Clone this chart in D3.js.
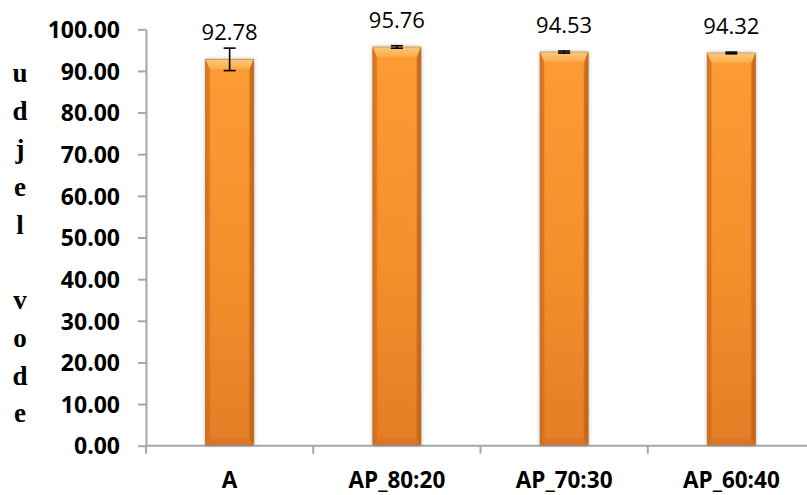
<!DOCTYPE html>
<html>
<head>
<meta charset="utf-8">
<script src="https://cdn.jsdelivr.net/npm/d3@7"></script>
<style>
  html, body { margin: 0; padding: 0; background: #fff; }
  svg { display: block; }
</style>
</head>
<body>
<svg id="chart" width="807" height="495"></svg>
<script>
const categories = ["A", "AP_80:20", "AP_70:30", "AP_60:40"];
const values = [92.78, 95.76, 94.53, 94.32];
const errors = [2.7, 0.3, 0.25, 0.2];
const yTicks = [0, 10, 20, 30, 40, 50, 60, 70, 80, 90, 100];
const yTitle = "udjel vode";

(function () {
const svg = d3.select("#chart");
const pLeft = 146, pRight = 815, pTop = 29.3, pBottom = 445.7;

const x = d3.scaleBand().domain(categories).range([pLeft, pRight]).padding(0);
const y = d3.scaleLinear().domain([0, 100]).range([pBottom, pTop]);
const barW = x.bandwidth() * 0.288;

const defs = svg.append("defs");
const vg = defs.append("linearGradient").attr("id", "bodyGrad").attr("x1", 0).attr("y1", 0).attr("x2", 0).attr("y2", 1);
vg.append("stop").attr("offset", "0%").attr("stop-color", "#FC9C34");
vg.append("stop").attr("offset", "55%").attr("stop-color", "#F58F2C");
vg.append("stop").attr("offset", "100%").attr("stop-color", "#E47D27");
const hg = defs.append("linearGradient").attr("id", "sideGrad").attr("x1", 0).attr("y1", 0).attr("x2", 1).attr("y2", 0);
hg.append("stop").attr("offset", "0%").attr("stop-color", "#000").attr("stop-opacity", 0.18);
hg.append("stop").attr("offset", "12%").attr("stop-color", "#000").attr("stop-opacity", 0);
hg.append("stop").attr("offset", "88%").attr("stop-color", "#000").attr("stop-opacity", 0);
hg.append("stop").attr("offset", "100%").attr("stop-color", "#000").attr("stop-opacity", 0.22);
const tg = defs.append("linearGradient").attr("id", "topGrad").attr("x1", 0).attr("y1", 0).attr("x2", 0).attr("y2", 1);
tg.append("stop").attr("offset", "0%").attr("stop-color", "#FDCB7A");
tg.append("stop").attr("offset", "100%").attr("stop-color", "#FCA948");
const sh = defs.append("filter").attr("id", "shadow").attr("x", "-30%").attr("y", "-10%").attr("width", "160%").attr("height", "120%");
sh.append("feGaussianBlur").attr("in", "SourceAlpha").attr("stdDeviation", 2).attr("result", "b");
sh.append("feComponentTransfer").attr("in", "b").attr("result", "s")
  .append("feFuncA").attr("type", "linear").attr("slope", 0.35);
const m = sh.append("feMerge");
m.append("feMergeNode").attr("in", "s");
m.append("feMergeNode").attr("in", "SourceGraphic");

// y axis
const yAxis = svg.append("g").attr("transform", `translate(${pLeft},0)`)
  .call(d3.axisLeft(y).tickValues(yTicks).tickSize(8).tickSizeOuter(0).tickFormat(d3.format(".2f")));
yAxis.select(".domain").attr("stroke", "#A6A6A6").attr("stroke-width", 2);
yAxis.selectAll(".tick line").attr("stroke", "#A6A6A6").attr("stroke-width", 2);
yAxis.selectAll(".tick text").attr("x", -26).attr("dy", "0.36em")
  .attr("font-family", "'Open Sans', sans-serif").attr("font-weight", "bold").attr("font-size", 23).attr("fill", "#000");

// x axis
const xAxis = svg.append("g").attr("transform", `translate(0,${pBottom})`);
xAxis.append("line").attr("x1", pLeft).attr("x2", pRight).attr("y1", 0).attr("y2", 0)
  .attr("stroke", "#A6A6A6").attr("stroke-width", 2);
xAxis.selectAll("line.tk").data(categories).enter().append("line").attr("class", "tk")
  .attr("x1", d => x(d)).attr("x2", d => x(d)).attr("y1", 0).attr("y2", 8)
  .attr("stroke", "#A6A6A6").attr("stroke-width", 2);
xAxis.selectAll("text").data(categories).enter().append("text")
  .attr("x", d => x(d) + x.bandwidth() / 2).attr("y", 42)
  .attr("text-anchor", "middle")
  .attr("font-family", "'Open Sans', sans-serif").attr("font-weight", "bold").attr("font-size", 22.5).attr("fill", "#000")
  .text(d => d);

// bars
const bars = svg.append("g").selectAll("g.bar").data(categories).enter().append("g").attr("class", "bar");
bars.each(function(d, i) {
  const g = d3.select(this);
  const x0 = x(d) + (x.bandwidth() - barW) / 2, x1 = x0 + barW;
  const y0 = y(values[i]), y1 = y(0) - 1;
  const bt = 10, bs = 4, bb = 6;
  const pts = a => a.map(p => p.join(",")).join(" ");
  g.append("rect").attr("x", x0).attr("y", y0).attr("width", barW).attr("height", y1 - y0)
    .attr("fill", "url(#bodyGrad)").attr("filter", "url(#shadow)");
  g.append("rect").attr("x", x0).attr("y", y0).attr("width", barW).attr("height", y1 - y0)
    .attr("fill", "url(#sideGrad)");
  g.append("polygon").attr("points", pts([[x0, y0], [x1, y0], [x1 - bs, y0 + bt], [x0 + bs, y0 + bt]]))
    .attr("fill", "url(#topGrad)");
  g.append("polygon").attr("points", pts([[x0, y0], [x0 + bs, y0 + bt], [x0 + bs, y1 - bb], [x0, y1]]))
    .attr("fill", "#D5721F").attr("opacity", 0.75);
  g.append("polygon").attr("points", pts([[x1, y0], [x1 - bs, y0 + bt], [x1 - bs, y1 - bb], [x1, y1]]))
    .attr("fill", "#C4661A").attr("opacity", 0.8);
  g.append("polygon").attr("points", pts([[x0, y1], [x0 + bs, y1 - bb], [x1 - bs, y1 - bb], [x1, y1]]))
    .attr("fill", "#D87626").attr("opacity", 0.9);
  g.append("rect").attr("x", x0).attr("y", y0).attr("width", barW).attr("height", y1 - y0)
    .attr("fill", "none").attr("stroke", "#B8641C").attr("stroke-width", 0.8).attr("stroke-opacity", 0.6);
});

// error bars
const eb = svg.append("g").attr("stroke", "#000").attr("stroke-width", 1.6);
categories.forEach((d, i) => {
  const cx = x(d) + x.bandwidth() / 2;
  const yt = y(values[i] + errors[i]), yb = y(values[i] - errors[i]);
  eb.append("line").attr("x1", cx).attr("x2", cx).attr("y1", yt).attr("y2", yb);
  eb.append("line").attr("x1", cx - 6).attr("x2", cx + 6).attr("y1", yt).attr("y2", yt);
  eb.append("line").attr("x1", cx - 6).attr("x2", cx + 6).attr("y1", yb).attr("y2", yb);
});

// value labels
svg.append("g").selectAll("text").data(categories).enter().append("text")
  .attr("x", d => x(d) + x.bandwidth() / 2)
  .attr("y", (d, i) => y(values[i]) - 19)
  .attr("text-anchor", "middle")
  .attr("font-family", "'Open Sans', sans-serif").attr("font-size", 22).attr("fill", "#000")
  .text((d, i) => values[i].toFixed(2));

// y title (stacked letters)
const letters = yTitle.split("");
const ly = d3.scaleLinear().domain([0, letters.length - 1]).range([73, 413]);
svg.append("g").selectAll("text").data(letters).enter().append("text")
  .attr("x", 20).attr("y", (d, i) => ly(i)).attr("dy", "0.35em")
  .attr("text-anchor", "middle")
  .attr("font-family", "'Liberation Serif', 'Times New Roman', serif").attr("font-weight", "bold").attr("font-size", 27).attr("fill", "#000")
  .text(d => d);
})();
</script>
</body>
</html>
